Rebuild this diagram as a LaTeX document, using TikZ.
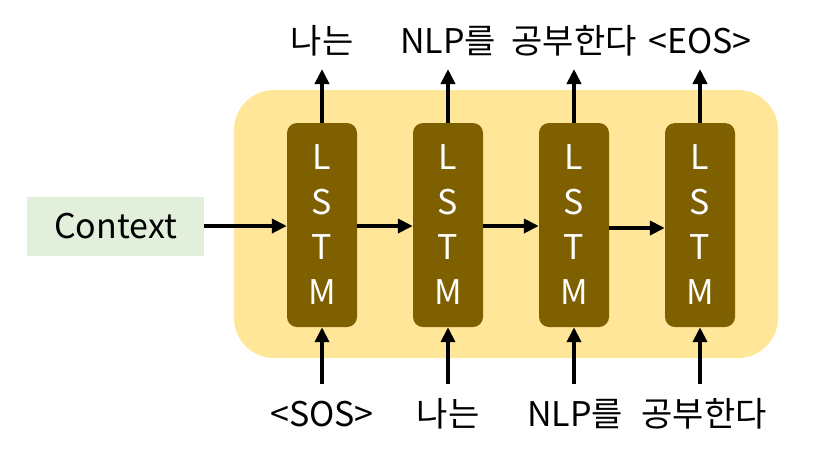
\documentclass[tikz,border=0pt]{standalone}
\usepackage{fontspec}
\setmainfont{Noto Sans CJK KR}
\usetikzlibrary{arrows.meta}
\definecolor{bgyellow}{HTML}{FFE699}
\definecolor{lstmbrown}{HTML}{7F6000}
\definecolor{ctxgreen}{HTML}{E2EFDA}
\begin{document}
\begin{tikzpicture}[x=1pt,y=-1pt,
  lstm/.style={fill=lstmbrown, rounded corners=10pt, minimum width=70pt, minimum height=204pt, inner sep=0pt},
  lstmtext/.style={text=white, font=\fontsize{34}{45}\selectfont, align=center},
  lbl/.style={font=\fontsize{34}{40}\selectfont, inner sep=0pt},
  arr/.style={line width=4pt, -{Triangle[length=15pt,width=14pt]}}]
\useasboundingbox (0,0) rectangle (819,459);
\fill[bgyellow, rounded corners=40pt] (234,90) rectangle (778,358);
\node[fill=ctxgreen, minimum width=177pt, minimum height=59pt, inner sep=0pt, font=\fontsize{34}{40}\selectfont] (ctx) at (115.5,226) {Context};
\foreach \i/\x in {1/322,2/448,3/574,4/700}{
  \node[lstm] (l\i) at (\x,225) {};
  \node[lstmtext] at (\x,225) {L\\S\\T\\M};
  \coordinate (t\i) at (\x,69);
  \coordinate (b\i) at (\x,384);
  \draw[arr] (l\i.north) -- (t\i);
  \draw[arr] (b\i) -- (l\i.south);
}
\draw[arr] (ctx.east) -- (l1.west |- ctx.east);
\draw[arr] (l1.east |- 0,226) -- (l2.west |- 0,226);
\draw[arr] (l2.east |- 0,226) -- (l3.west |- 0,226);
\draw[arr] (l3.east |- 0,228) -- (l4.west |- 0,228);
\node[lbl] (o1) at (322,41) {나는};
\node[lbl] (o2) at (448,41) {NLP를};
\node[lbl] (o3) at (574,41) {공부한다};
\node[lbl] (o4) at (700,41) {<EOS>};
\node[lbl] (i1) at (322,414) {<SOS>};
\node[lbl] (i2) at (448,414) {나는};
\node[lbl] (i3) at (575,414) {NLP를};
\node[lbl] (i4) at (704,414) {공부한다};
\end{tikzpicture}
\end{document}
